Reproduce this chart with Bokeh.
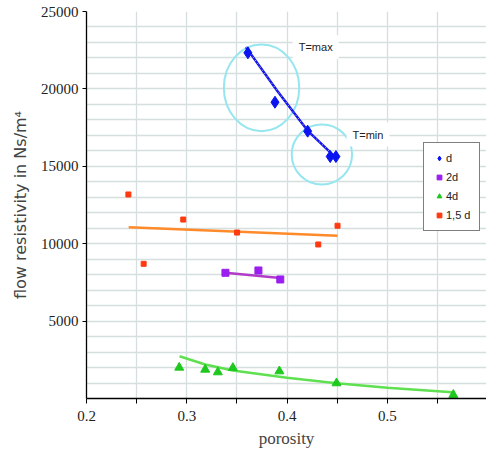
from bokeh.plotting import figure
from bokeh.models import FixedTicker, Legend, LegendItem, Label, Range1d, Title
from bokeh.embed import file_html
from bokeh.resources import INLINE

# ---- data ----
d_x = [0.361, 0.388, 0.4206, 0.4431, 0.4488]
d_y = [22330, 19140, 17270, 15630, 15630]
d_trend_x = [0.359, 0.390, 0.4205, 0.449]
d_trend_y = [22700, 19900, 17310, 15550]

d2_x = [0.3386, 0.3715, 0.3933]
d2_y = [8120, 8270, 7690]
d2_trend_x = [0.3386, 0.3933]
d2_trend_y = [8130, 7790]

d4_x = [0.2925, 0.3184, 0.331, 0.346, 0.3924, 0.4494, 0.5659]
d4_y = [2000, 1870, 1700, 1980, 1760, 990, 240]
d4_trend_x = [0.2928, 0.3184, 0.346, 0.400, 0.4494, 0.5002, 0.5649]
d4_trend_y = [2730, 2200, 1810, 1340, 990, 690, 410]

d15_x = [0.2418, 0.257, 0.2965, 0.3502, 0.4312, 0.4504]
d15_y = [13180, 8700, 11560, 10720, 9950, 11160]
d15_trend_x = [0.2421, 0.4504]
d15_trend_y = [11070, 10510]

ell_x = [0.3746, 0.4348]
ell_y = [20070, 15760]
ell_w = [0.0752, 0.0602]
ell_h = [5600, 3876]

note_text = ["T=max", "T=min"]
note_x = [0.4057, 0.4594]
note_y = [22690, 17050]

x_major = [0.2, 0.3, 0.4, 0.5]
x_minor = [0.25, 0.35, 0.45, 0.55]
y_major = [5000, 10000, 15000, 20000, 25000]
y_minor = [v for v in range(1000, 25000, 1000) if v % 5000 != 0]

SERIF = "Liberation Serif"
SANS = "DejaVu Sans"
NARROW = "Liberation Sans Narrow, Liberation Sans"

p = figure(width=486, height=452, output_backend="svg", toolbar_location=None,
           x_range=Range1d(0.2, 0.599), y_range=Range1d(0, 25000),
           min_border_left=85, min_border_right=0, min_border_top=11,
           min_border_bottom=54)
p.outline_line_color = None
p.background_fill_color = "white"

grid_col = "#d6dfdf"
p.xaxis.ticker = FixedTicker(ticks=x_major, minor_ticks=x_minor)
p.yaxis.ticker = FixedTicker(ticks=y_major, minor_ticks=y_minor)
p.xgrid.ticker = FixedTicker(ticks=x_major, minor_ticks=x_minor)
p.ygrid.ticker = FixedTicker(ticks=y_major, minor_ticks=y_minor)
for g in (p.xgrid[0], p.ygrid[0]):
    g.grid_line_color = grid_col
    g.grid_line_width = 1.3
    g.minor_grid_line_color = grid_col
    g.minor_grid_line_width = 1.3

p.axis.axis_line_color = "black"
p.axis.axis_line_width = 1.3
p.axis.major_tick_line_color = "black"
p.axis.minor_tick_line_color = "black"
p.axis.major_tick_in = 0
p.axis.minor_tick_in = 0
p.axis.major_label_text_font = SERIF
p.axis.major_label_text_font_size = "15px"
p.axis.major_label_text_color = "#222222"

p.xaxis[0].major_tick_out = 5
p.xaxis[0].minor_tick_out = 5
p.xaxis[0].major_label_standoff = 7
p.xaxis[0].axis_label = "porosity"
p.xaxis[0].axis_label_text_font = SERIF
p.xaxis[0].axis_label_text_font_size = "17px"
p.xaxis[0].axis_label_text_font_style = "normal"
p.xaxis[0].axis_label_standoff = 5

p.yaxis[0].major_tick_out = 4
p.yaxis[0].minor_tick_out = 0
p.yaxis[0].major_label_standoff = 4

ytitle = Title(text="flow resistivity in Ns/m\u2074", align="center", offset=-26,
               text_font=SANS, text_font_size="16px", text_font_style="normal",
               text_color="#444444", standoff=0, padding=8)
p.add_layout(ytitle, "left")

# ellipses
p.ellipse(x=ell_x, y=ell_y, width=ell_w, height=ell_h, fill_color=None,
          line_color="#96e6ef", line_width=2)

# trend lines
p.line(d_trend_x, d_trend_y, line_color="#1515e6", line_width=2.5)
p.line(d_trend_x, d_trend_y, line_color="#c8c8ff", line_width=1, line_dash="1 3")
p.line(d2_trend_x, d2_trend_y, line_color="#b03cc8", line_width=2.5)
p.line(d15_trend_x, d15_trend_y, line_color="#ff8a2a", line_width=2.5)
p.line(d4_trend_x, d4_trend_y, line_color="#5fe050", line_width=2.5)

# markers
r_d = p.scatter(d_x, d_y, marker="diamond", size=12, color="#0a14f0")
r_2d = p.scatter(d2_x, d2_y, marker="square", size=7, color="#9a1ef0")
r_4d = p.scatter(d4_x, d4_y, marker="triangle", size=9, color="#1ec81e")
r_15 = p.scatter(d15_x, d15_y, marker="square", size=5, color="#ff3a10")

# notes
for t, x, y in zip(note_text, note_x, note_y):
    p.add_layout(Label(x=x, y=y, text=t, text_font=NARROW, text_font_size="11px",
                       text_color="#222222", text_baseline="middle", text_align="left",
                       background_fill_color="white", padding=6))

legend = Legend(items=[LegendItem(label="d", renderers=[r_d]),
                       LegendItem(label="2d", renderers=[r_2d]),
                       LegendItem(label="4d", renderers=[r_4d]),
                       LegendItem(label="1,5 d", renderers=[r_15])],
                location=(337, 167), orientation="vertical",
                label_text_font=NARROW, label_text_font_size="11px",
                label_text_color="#222222", label_standoff=1,
                glyph_width=12, glyph_height=12, label_height=12,
                spacing=7, padding=9, margin=0,
                border_line_color="black", border_line_width=1,
                background_fill_color="white", background_fill_alpha=1)
p.add_layout(legend, "center")

open("out.html", "w").write(file_html(p, INLINE))
